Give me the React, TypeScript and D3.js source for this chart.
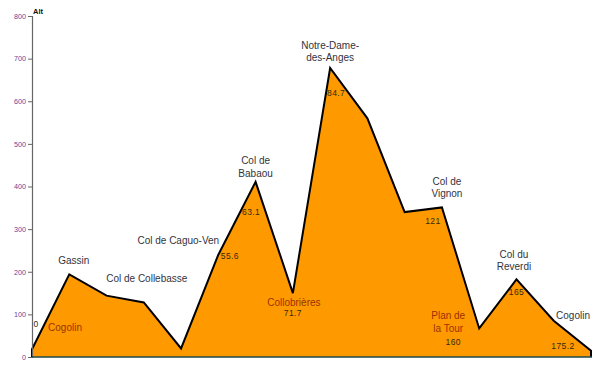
import React, { useEffect, useRef } from "react";
import * as d3 from "d3";

// ---- data ----
const altitudes: number[] = [18, 194, 144, 128, 20, 240, 411, 150, 678, 560, 340, 351, 67, 182, 85, 15];
const yTicks: number[] = [0, 100, 200, 300, 400, 500, 600, 700, 800];
const yLabel = "Alt";

// place names: point index, lines of text, kind
const placeIdx: number[] = [0, 1, 3, 5, 6, 7, 8, 11, 12, 13, 15];
const placeNames: string[][] = [
  ["Cogolin"],
  ["Gassin"],
  ["Col de Collebasse"],
  ["Col de Caguo-Ven"],
  ["Col de", "Babaou"],
  ["Collobrières"],
  ["Notre-Dame-", "des-Anges"],
  ["Col de", "Vignon"],
  ["Plan de", "la Tour"],
  ["Col du", "Reverdi"],
  ["Cogolin"],
];
// distances (km): point index and value
const distIdx: number[] = [0, 5, 6, 7, 8, 11, 12, 13, 15];
const distances: string[] = ["0", "55.6", "63.1", "71.7", "84.7", "121", "160", "165", "175.2"];

// ---- layout (offsets relative to the point, in px) ----
const placeOffsets: [number, number][] = [
  [33, -22], [4.5, -13.5], [3, -24], [-40, -14], [0, -21], [1, 9],
  [0, -23], [5, -25.7], [-31, -12.7], [-2.5, -25.4], [-18, -35],
];
const placeInside: boolean[] = [true, false, false, false, false, true, false, false, true, false, false];
const distOffsets: [number, number][] = [
  [4, -25], [11.5, 1.5], [-4.5, 30], [0, 20], [6, 25], [-9, 13.6], [-26, 13.3], [0, 12.3], [-28, -5],
];

const W = 600, H = 375;
const left = 32, right = 591, top = 16, bottom = 357;

export default function App() {
  const axisRef = useRef<SVGGElement>(null);
  const x = d3.scalePoint<number>().domain(altitudes.map((_, i) => i)).range([left, right]);
  const y = d3.scaleLinear().domain([0, 800]).range([bottom, top]);

  useEffect(() => {
    if (!axisRef.current) return;
    const g = d3.select(axisRef.current);
    g.selectAll("*").remove();
    g.call(d3.axisLeft(y).tickValues(yTicks).tickSize(4).tickPadding(2).tickFormat(d3.format("d")) as any);
    g.select(".domain").attr("stroke", "#666").attr("stroke-width", 1.2);
    g.selectAll(".tick line").attr("stroke", "#666");
    g.selectAll(".tick text")
      .attr("fill", "#6a3f99")
      .attr("font-size", 7.2)
      .attr("font-family", "'Liberation Sans', Arial, sans-serif");
  }, []);

  const area = d3.area<number>().x((_, i) => x(i)!).y0(y(0)).y1((d) => y(d));
  const outline = d3.line<number>().x((_, i) => x(i)!).y((d) => y(d));
  const pts = altitudes;
  const areaPath = area(pts)!;
  const outlinePath =
    `M${x(0)},${y(0)}L` + outline(pts)!.slice(1) + `L${x(pts.length - 1)},${y(0)}`;

  const font = "'Liberation Sans', Arial, sans-serif";

  return (
    <svg width={W} height={H} style={{ position: "absolute", left: 0, top: 0, background: "#fff" }} fontFamily={font}>
      <path d={areaPath} fill="#FF9900" stroke="none" />
      <path d={outlinePath} fill="none" stroke="#000" strokeWidth={2} strokeLinejoin="miter" />
      <g ref={axisRef} transform={`translate(${left},0)`} />
      <line x1={left} x2={right + 1} y1={y(0)} y2={y(0)} stroke="#1f4a4a" strokeWidth={1.6} />
      <text x={33} y={14} fontSize={7.5} fontWeight="bold" fill="#111">{yLabel}</text>
      {placeIdx.map((pi, k) => {
        const cx = x(pi)! + placeOffsets[k][0];
        const cy = y(altitudes[pi]) + placeOffsets[k][1];
        const lines = placeNames[k];
        return (
          <text key={"p" + k} x={cx} y={cy + 3.6} textAnchor="middle" fontSize={10}
            fill={placeInside[k] ? "#993300" : "#333340"}>
            {lines.map((l, j) => (
              <tspan key={j} x={cx} dy={j === 0 ? 0 : 12.2}>{l}</tspan>
            ))}
          </text>
        );
      })}
      {distIdx.map((pi, k) => (
        <text key={"d" + k} x={x(pi)! + distOffsets[k][0]} y={y(altitudes[pi]) + distOffsets[k][1] + 3}
          textAnchor="middle" fontSize={8.5} letterSpacing={0.4} fill="#332a10">
          {distances[k]}
        </text>
      ))}
    </svg>
  );
}
